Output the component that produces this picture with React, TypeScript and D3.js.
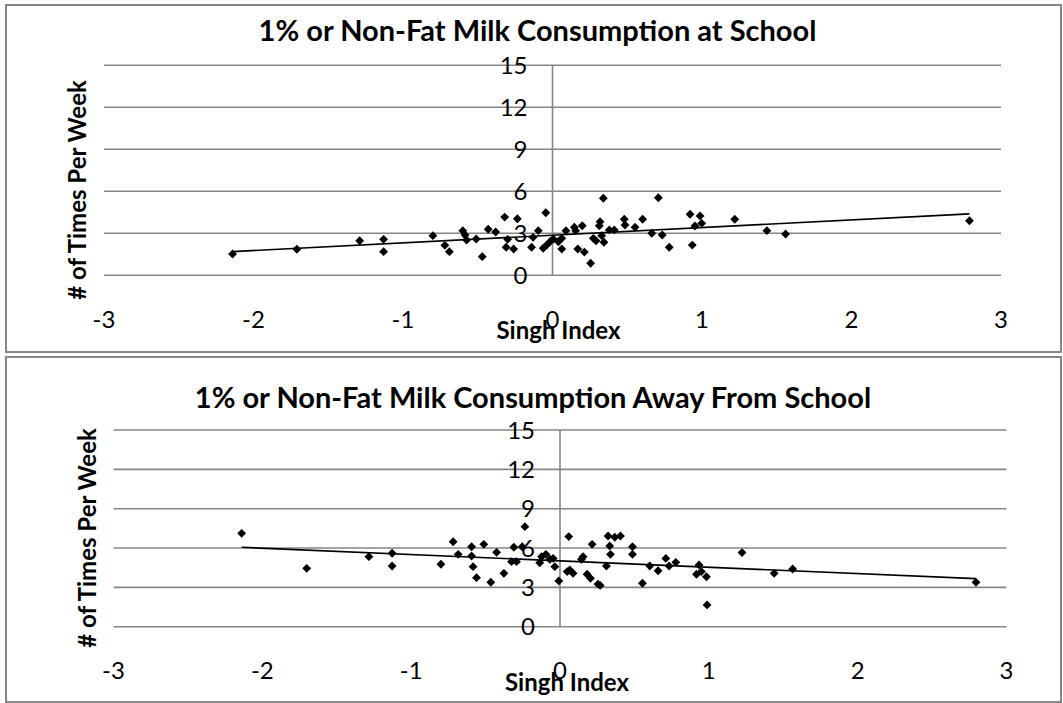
import React from "react";
import * as d3 from "d3";

// Singh Index (x) vs times per week (y)
const atSchoolX = [-2.14, -1.71, -1.29, -1.13, -1.13, -0.8, -0.72, -0.69, -0.6, -0.585, -0.575, -0.51, -0.47, -0.43, -0.38, -0.32, -0.3, -0.31, -0.26, -0.235, -0.14, -0.13, -0.095, -0.045, -0.062, -0.039, -0.017, 0.005, 0.039, 0.062, 0.062, 0.09, 0.146, 0.155, 0.169, 0.199, 0.213, 0.255, 0.273, 0.291, 0.318, 0.313, 0.34, 0.329, 0.344, 0.38, 0.413, 0.48, 0.485, 0.552, 0.603, 0.664, 0.708, 0.734, 0.781, 0.92, 0.935, 0.953, 0.987, 0.998, 1.219, 1.434, 1.559, 2.789];
const atSchoolY = [1.52, 1.86, 2.47, 2.57, 1.69, 2.83, 2.14, 1.69, 3.19, 2.88, 2.52, 2.59, 1.33, 3.29, 3.09, 4.16, 2.57, 2.0, 1.88, 4.04, 2.0, 2.71, 3.19, 4.47, 1.93, 2.16, 2.4, 2.59, 2.4, 1.88, 2.64, 3.19, 3.43, 3.19, 1.88, 3.54, 1.66, 0.86, 2.64, 2.47, 3.83, 3.54, 5.5, 2.83, 2.36, 3.24, 3.24, 4.0, 3.59, 3.43, 4.0, 3.0, 5.54, 2.88, 2.0, 4.36, 2.16, 3.52, 4.24, 3.71, 4.0, 3.19, 2.95, 3.9];

const awayX = [-2.139, -1.702, -1.284, -1.128, -1.128, -0.8, -0.718, -0.684, -0.594, -0.594, -0.584, -0.561, -0.512, -0.465, -0.426, -0.377, -0.31, -0.326, -0.292, -0.236, -0.254, -0.136, -0.124, -0.095, -0.068, -0.046, -0.035, -0.008, 0.059, 0.048, 0.066, 0.088, 0.144, 0.155, 0.182, 0.205, 0.216, 0.255, 0.27, 0.312, 0.323, 0.334, 0.339, 0.368, 0.406, 0.487, 0.487, 0.554, 0.603, 0.659, 0.711, 0.733, 0.778, 0.934, 0.917, 0.95, 0.984, 0.988, 1.223, 1.439, 1.563, 2.795];
const awayY = [7.12, 4.45, 5.34, 5.6, 4.63, 4.76, 6.48, 5.52, 6.1, 5.39, 4.58, 3.74, 6.28, 3.39, 5.67, 4.07, 6.06, 4.96, 4.96, 7.63, 6.1, 4.88, 5.34, 5.52, 5.14, 5.21, 4.58, 3.49, 6.87, 4.2, 4.32, 4.07, 5.14, 5.34, 4.0, 3.69, 6.28, 3.25, 3.15, 4.63, 6.92, 6.16, 5.52, 6.82, 6.92, 6.1, 5.52, 3.31, 4.63, 4.27, 5.21, 4.63, 4.91, 4.71, 4.0, 4.2, 3.81, 1.66, 5.65, 4.07, 4.4, 3.39];

const xTicks = [-3, -2, -1, 0, 1, 2, 3];
const yTicks = [0, 3, 6, 9, 12, 15];

const FONT = "Lato, 'Open Sans', sans-serif";
const GRID = "#868686";

function fit(xs: number[], ys: number[]) {
  const mx = d3.mean(xs)!;
  const my = d3.mean(ys)!;
  let sxy = 0, sxx = 0;
  xs.forEach((x, i) => {
    sxy += (x - mx) * (ys[i] - my);
    sxx += (x - mx) * (x - mx);
  });
  const b = sxy / sxx;
  return { a: my - b * mx, b };
}

type PanelProps = {
  title: string;
  xs: number[];
  ys: number[];
  box: { x: number; y: number; w: number; h: number };
  xRange: [number, number];
  yRange: [number, number];
  titleX: number;
  titleY: number;
  yTitleX: number;
  yTitleY: number;
  xTitleX: number;
  xTitleY: number;
  xTickY: number;
};

function Panel(p: PanelProps) {
  const x = d3.scaleLinear().domain([-3, 3]).range(p.xRange);
  const y = d3.scaleLinear().domain([0, 15]).range(p.yRange);
  const { a, b } = fit(p.xs, p.ys);
  const [x0, x1] = d3.extent(p.xs) as [number, number];
  const trend = d3.line<number>().x((d) => x(d)).y((d) => y(a + b * d))([x0, x1]) || "";
  const marker = d3.symbol(d3.symbolDiamond2, 50)() || "";

  return (
    <g>
      <rect x={p.box.x} y={p.box.y} width={p.box.w} height={p.box.h} fill="#fff" stroke={GRID} strokeWidth={2} />
      {yTicks.map((t) => (
        <line key={"g" + t} x1={p.xRange[0]} x2={p.xRange[1]} y1={y(t)} y2={y(t)} stroke={GRID} strokeWidth={1.6} />
      ))}
      <line x1={x(0)} x2={x(0)} y1={y(0)} y2={y(15)} stroke={GRID} strokeWidth={1.6} />
      {yTicks.map((t) => (
        <text key={"yl" + t} x={x(0) - 25} y={y(t) + 8.5} textAnchor="end" fontSize={24} fontFamily={FONT} fill="#000">
          {t}
        </text>
      ))}
      {xTicks.map((t) => (
        <text key={"xl" + t} x={x(t)} y={p.xTickY} textAnchor="middle" fontSize={24} fontFamily={FONT} fill="#000">
          {t}
        </text>
      ))}
      <path d={trend} fill="none" stroke="#000" strokeWidth={1.6} />
      {p.xs.map((v, i) => (
        <path key={i} d={marker} transform={`translate(${x(v)},${y(p.ys[i])})`} fill="#000" />
      ))}
      <text x={p.titleX} y={p.titleY} textAnchor="middle" fontSize={29} fontWeight="bold" fontFamily={FONT}>
        {p.title}
      </text>
      <text
        transform={`translate(${p.yTitleX},${p.yTitleY}) rotate(-90)`}
        textAnchor="middle"
        fontSize={24}
        fontWeight="bold"
        fontFamily={FONT}
      >
        # of Times Per Week
      </text>
      <text x={p.xTitleX} y={p.xTitleY} textAnchor="middle" fontSize={24} fontWeight="bold" fontFamily={FONT}>
        Singh Index
      </text>
    </g>
  );
}

export default function App() {
  return (
    <div style={{ position: "absolute", left: 0, top: 0 }}>
      <svg width={1063} height={703} style={{ display: "block", background: "#fff" }}>
        <Panel
          title="1% or Non-Fat Milk Consumption at School"
          xs={atSchoolX}
          ys={atSchoolY}
          box={{ x: 6, y: 5, w: 1055, h: 347 }}
          xRange={[104, 1001]}
          yRange={[275.3, 65.3]}
          titleX={537.5}
          titleY={41}
          yTitleX={86}
          yTitleY={190}
          xTitleX={558.5}
          xTitleY={339}
          xTickY={328}
        />
        <Panel
          title="1% or Non-Fat Milk Consumption Away From School"
          xs={awayX}
          ys={awayY}
          box={{ x: 6, y: 357, w: 1055, h: 345 }}
          xRange={[113.5, 1006.5]}
          yRange={[626.7, 430]}
          titleX={533}
          titleY={408}
          yTitleX={96}
          yTitleY={538}
          xTitleX={567}
          xTitleY={691}
          xTickY={679}
        />
      </svg>
    </div>
  );
}
